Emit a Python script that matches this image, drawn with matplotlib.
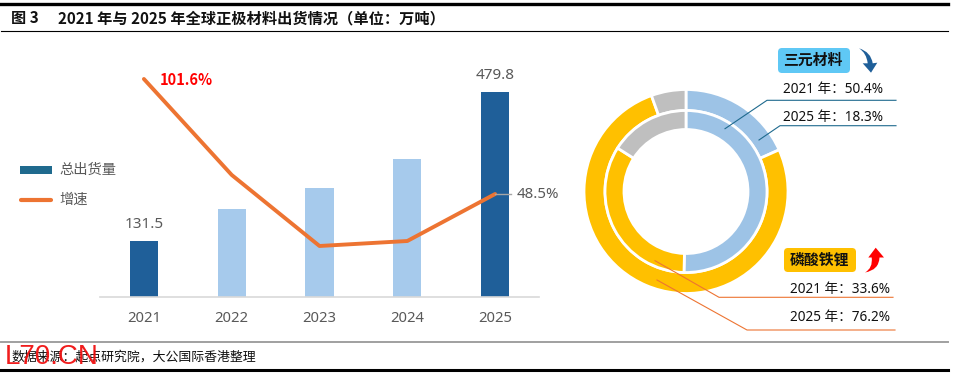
import matplotlib
matplotlib.use("Agg")
import matplotlib.pyplot as plt
from matplotlib.patches import FancyBboxPatch, PathPatch, Rectangle
from matplotlib.path import Path

plt.rcParams['font.family'] = ['Noto Sans', 'Noto Sans CJK SC', 'DejaVu Sans']
BOLD_FONT = ['Noto Sans CJK SC', 'DejaVu Sans']

years = ['2021', '2022', '2023', '2024', '2025']
shipments = [131.5, 206, 255, 323, 479.8]
growth = [101.6, 57.3, 24.5, 26.8, 48.5]

ring_names = ['三元材料', '磷酸铁锂', '其他']
share_2021 = [50.4, 33.6, 16.0]
share_2025 = [18.3, 76.2, 5.5]

W, H = 954, 376
TEXT = '#111111'
GREY = '#595959'
ORANGE = '#ED7432'
TEAL = '#1F6A8E'
DARK_BAR = '#1F5F99'
LIGHT_BAR = '#A6CAEC'
RING_COLORS = ['#9DC3E6', '#FFC000', '#BFBFBF']


def px_axes(fig, left, top, right, bottom):
    return fig.add_axes([left / W, 1 - bottom / H, (right - left) / W, (bottom - top) / H])


def main():
    fig = plt.figure(figsize=(W / 100, H / 100), dpi=100)

    # bars and growth line
    ax = px_axes(fig, 100, 40, 539, 297)
    colors = [DARK_BAR, LIGHT_BAR, LIGHT_BAR, LIGHT_BAR, DARK_BAR]
    ax.bar(range(5), shipments, width=0.32, color=colors)
    ax.set_xlim(-0.5, 4.5)
    ax.set_ylim(0, 601.5)
    ax.set_xticks(range(5))
    ax.set_xticklabels(years, fontsize=10.7, color=GREY)
    ax.tick_params(axis='x', length=0, pad=10)
    ax.set_yticks([])
    for s in ['top', 'left', 'right']:
        ax.spines[s].set_visible(False)
    ax.spines['bottom'].set_color('#D9D9D9')
    ax.spines['bottom'].set_linewidth(1.2)
    ax.patch.set_alpha(0)

    ax2 = ax.twinx()
    ax2.plot(range(5), growth, color=ORANGE, lw=2.8, solid_capstyle='round', solid_joinstyle='round')
    ax2.set_ylim(0.95, 119.6)
    ax2.set_yticks([])
    for s in ax2.spines.values():
        s.set_visible(False)
    ax2.patch.set_alpha(0)

    ax.text(0, shipments[0] + 20, '131.5', ha='center', va='bottom', fontsize=11, color=GREY)
    ax.text(4, shipments[4] + 20, '479.8', ha='center', va='bottom', fontsize=11, color=GREY)
    ax2.text(0.18, growth[0] - 0.6, '101.6%', ha='left', va='center', fontsize=10.5,
             color='#FF0000', fontweight='bold', family=BOLD_FONT)
    ax2.plot([4, 4.18], [growth[4], growth[4]], color='#A6A6A6', lw=1)
    ax2.text(4.25, growth[4], '48.5%', ha='left', va='center', fontsize=10.8, color=GREY)

    # donut, inner ring 2021, outer ring 2025
    pie = px_axes(fig, 566, 71.5, 806, 311.5)
    edge = {'edgecolor': 'white', 'linewidth': 2}
    pie.pie(share_2025, colors=RING_COLORS, radius=102, startangle=90, counterclock=False,
            wedgeprops={'width': 21, **edge})
    pie.pie(share_2021, colors=RING_COLORS, radius=81, startangle=90, counterclock=False,
            wedgeprops={'width': 19, **edge})
    pie.set_xlim(-120, 120)
    pie.set_ylim(-120, 120)
    pie.set_aspect('equal')

    # overlay in pixel coordinates for rules, legend and callouts
    ov = fig.add_axes([0, 0, 1, 1], zorder=5)
    ov.set_xlim(0, W)
    ov.set_ylim(H, 0)
    ov.axis('off')

    ov.plot([1, 948], [3.5, 3.5], color='black', lw=2.4)
    ov.plot([1, 948], [30.5, 30.5], color='black', lw=0.8)
    ov.plot([1, 948], [342, 342], color='#A0A0A0', lw=1.4)
    ov.plot([1, 948], [369.5, 369.5], color='black', lw=2.2)

    ov.text(11, 18.5, '图 3', fontsize=10.95, fontweight='bold', color=TEXT, va='center', family=BOLD_FONT)
    ov.text(58, 18.5, '2021 年与 2025 年全球正极材料出货情况（单位：万吨）', fontsize=10.95,
            fontweight='bold', color=TEXT, va='center', family=BOLD_FONT)
    ov.text(11, 357, '数据来源：起点研究院，大公国际香港整理', fontsize=9.3, color=TEXT, va='center')
    ov.text(5, 357, 'L70.CN', fontsize=20, color='#F01010', va='center',
            family='Liberation Sans', alpha=0.95)

    # legend
    ov.add_patch(Rectangle((20, 166), 32, 8, color=TEAL, lw=0))
    ov.text(59, 170.5, '总出货量', fontsize=10.3, color=GREY, va='center')
    ov.plot([21, 51], [200, 200], color=ORANGE, lw=3, solid_capstyle='round')
    ov.text(59, 200.5, '增速', fontsize=10.3, color=GREY, va='center')

    # callout boxes
    ov.add_patch(FancyBboxPatch((780, 50), 68, 21, boxstyle='round,pad=2,rounding_size=4',
                                fc='#5FC8F5', ec='none'))
    ov.text(813, 60, '三元材料', fontsize=10.7, fontweight='bold', color=TEXT, ha='center', va='center',
            family=BOLD_FONT)
    ov.add_patch(FancyBboxPatch((786, 250), 68, 20, boxstyle='round,pad=2,rounding_size=4',
                                fc='#FFC000', ec='none'))
    ov.text(819, 260, '磷酸铁锂', fontsize=10.7, fontweight='bold', color=TEXT, ha='center', va='center',
            family=BOLD_FONT)

    # curved arrows
    c3 = Path.CURVE3
    blue = Path([(859, 48.3), (871, 52), (872.7, 63.3), (877.3, 62.7), (871, 72.7), (862.7, 63.3),
                 (867.7, 63.3), (866.5, 53), (859, 48.3), (859, 48.3)],
                [Path.MOVETO, c3, c3, Path.LINETO, Path.LINETO, Path.LINETO, Path.LINETO, c3, c3,
                 Path.CLOSEPOLY])
    ov.add_patch(PathPatch(blue, fc='#1F5F99', ec='none'))
    red = Path([(865, 272.5), (879, 270), (879.5, 257.5), (884, 257.5), (875.7, 247.7), (868.3, 257.5),
                (871.7, 257.5), (873, 268), (865, 272.5), (865, 272.5)],
               [Path.MOVETO, c3, c3, Path.LINETO, Path.LINETO, Path.LINETO, Path.LINETO, c3, c3,
                Path.CLOSEPOLY])
    ov.add_patch(PathPatch(red, fc='#FF0000', ec='none'))

    # share labels with leader lines
    ov.text(783, 89.5, f'2021 年：{share_2021[0]}%', fontsize=9.8, color=TEXT, va='center')
    ov.plot([725, 767, 896], [128.7, 100.3, 100.3], color=TEAL, lw=0.8)
    ov.text(783, 118, f'2025 年：{share_2025[0]}%', fontsize=9.8, color=TEXT, va='center')
    ov.plot([759, 780, 896], [140, 125.7, 125.7], color=TEAL, lw=0.8)
    ov.text(790, 289.5, f'2021 年：{share_2021[1]}%', fontsize=9.8, color=TEXT, va='center')
    ov.plot([655, 719, 893], [260.7, 297.3, 297.3], color=ORANGE, lw=0.8)
    ov.text(790, 317.5, f'2025 年：{share_2025[1]}%', fontsize=9.8, color=TEXT, va='center')
    ov.plot([657, 747, 895], [280, 330, 330], color=ORANGE, lw=0.8)

    fig.savefig('out.png', dpi=100)


if __name__ == "__main__":
    main()
